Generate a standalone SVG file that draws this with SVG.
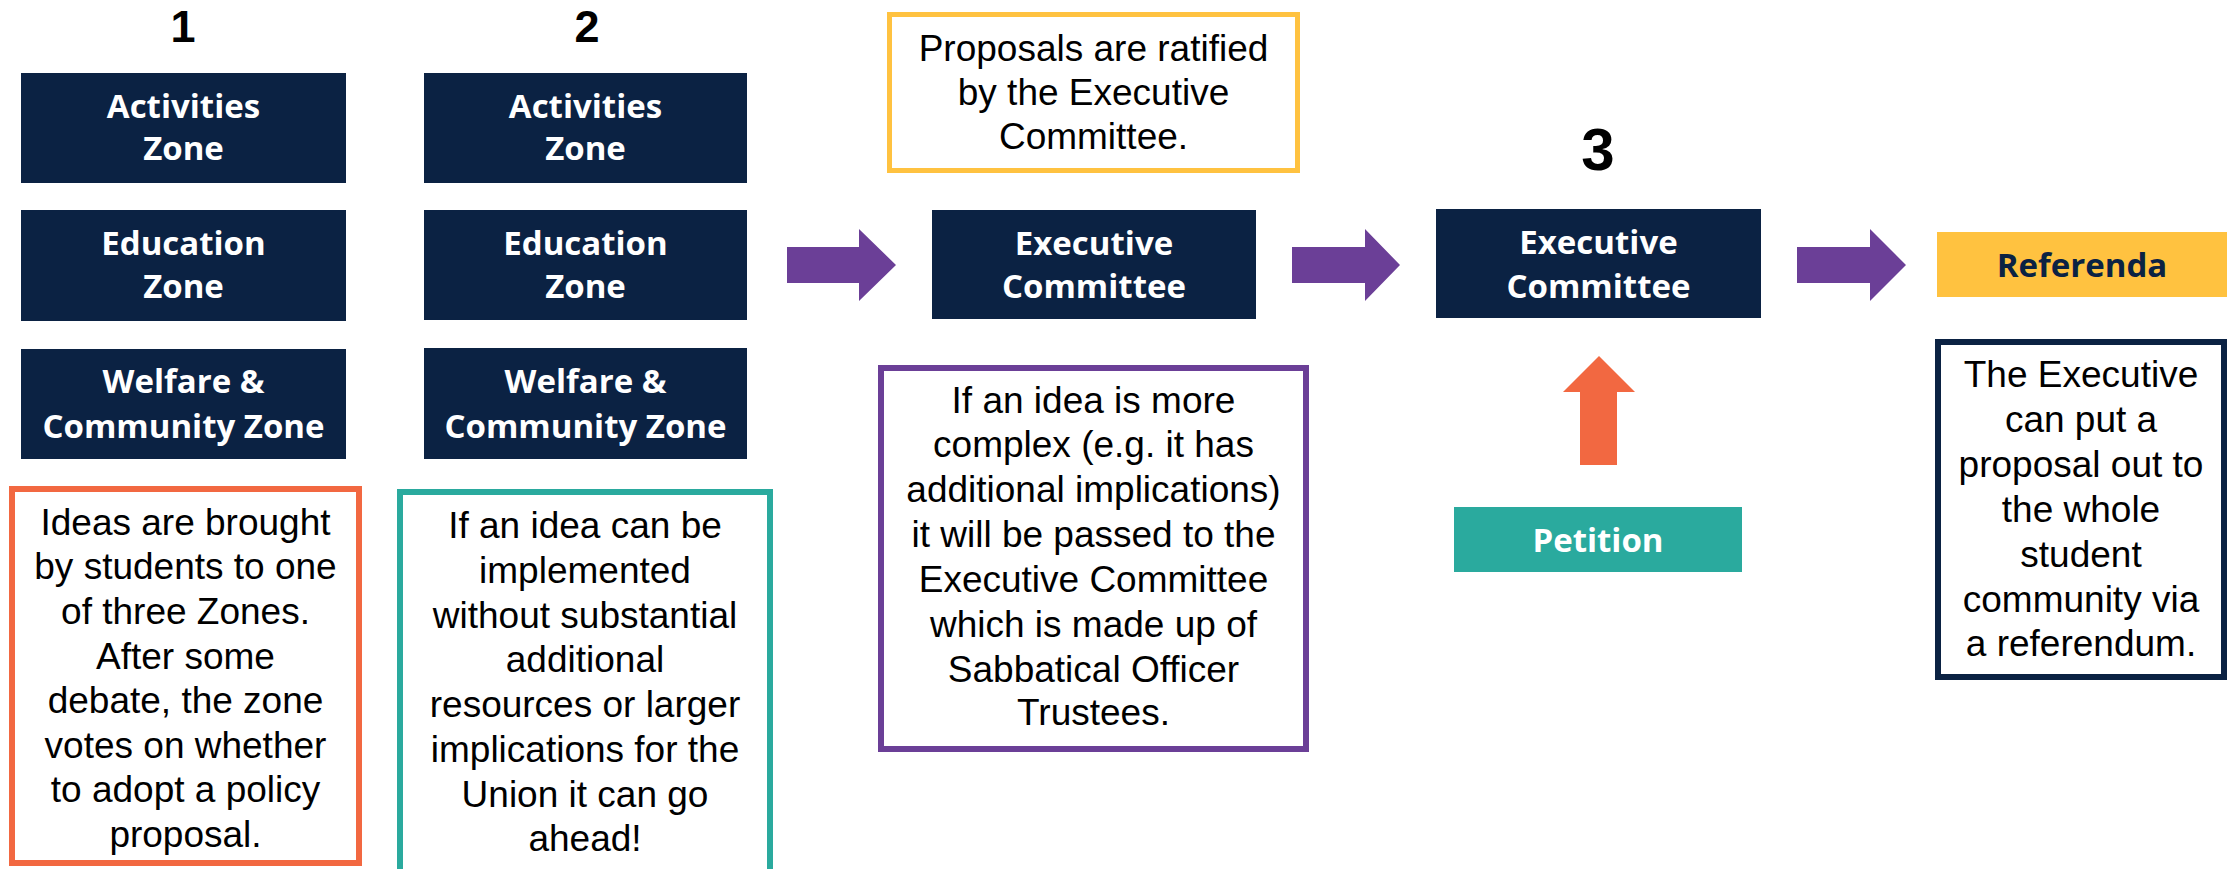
<svg xmlns="http://www.w3.org/2000/svg" width="2239" height="869" viewBox="0 0 2239 869">
<style>
.node{fill:#0B2243}
.nt{font-family:"Open Sans","Noto Sans","Liberation Sans",sans-serif;font-weight:700;font-size:33px;fill:#ffffff;text-anchor:middle}
.num{font-family:"Liberation Sans",Arial,sans-serif;font-weight:700;fill:#000000;text-anchor:middle}
.bt{font-family:"Liberation Sans",Arial,sans-serif;font-size:37px;fill:#000000;text-anchor:middle}
.ob{fill:#ffffff}
.arrow{fill:#6B3F97}
</style>
<rect width="2239" height="869" fill="#ffffff"/>

<g id="step1"><text class="num" x="183" y="42" font-size="45">1</text></g>
<g id="step2"><text class="num" x="587" y="42" font-size="45">2</text></g>
<g id="step3"><text class="num" x="1598" y="170" font-size="60">3</text></g>

<g id="activities1"><rect class="node" x="21" y="73" width="325" height="110"/><text class="nt" x="183.5" y="118">Activities</text><text class="nt" x="183.5" y="160">Zone</text></g>
<g id="education1"><rect class="node" x="21" y="210" width="325" height="111"/><text class="nt" x="183.5" y="255">Education</text><text class="nt" x="183.5" y="298">Zone</text></g>
<g id="welfare1"><rect class="node" x="21" y="349" width="325" height="110"/><text class="nt" x="183.5" y="393">Welfare &amp;</text><text class="nt" x="183.5" y="438">Community Zone</text></g>

<g id="activities2"><rect class="node" x="424" y="73" width="323" height="110"/><text class="nt" x="585.5" y="118">Activities</text><text class="nt" x="585.5" y="160">Zone</text></g>
<g id="education2"><rect class="node" x="424" y="210" width="323" height="110"/><text class="nt" x="585.5" y="255">Education</text><text class="nt" x="585.5" y="298">Zone</text></g>
<g id="welfare2"><rect class="node" x="424" y="348" width="323" height="111"/><text class="nt" x="585.5" y="393">Welfare &amp;</text><text class="nt" x="585.5" y="438">Community Zone</text></g>

<g id="note1"><rect class="ob" x="12" y="489" width="347" height="374" stroke="#F26841" stroke-width="6"/>
<text class="bt" x="185.5" y="535">Ideas are brought</text>
<text class="bt" x="185.5" y="579">by students to one</text>
<text class="bt" x="185.5" y="624">of three Zones.</text>
<text class="bt" x="185.5" y="669">After some</text>
<text class="bt" x="185.5" y="713">debate, the zone</text>
<text class="bt" x="185.5" y="758">votes on whether</text>
<text class="bt" x="185.5" y="802">to adopt a policy</text>
<text class="bt" x="185.5" y="847">proposal.</text></g>

<g id="note2"><rect class="ob" x="400" y="492" width="370" height="400" stroke="#2AAA9E" stroke-width="6"/>
<text class="bt" x="585" y="538">If an idea can be</text>
<text class="bt" x="585" y="583">implemented</text>
<text class="bt" x="585" y="628">without substantial</text>
<text class="bt" x="585" y="672">additional</text>
<text class="bt" x="585" y="717">resources or larger</text>
<text class="bt" x="585" y="762">implications for the</text>
<text class="bt" x="585" y="807">Union it can go</text>
<text class="bt" x="585" y="851">ahead!</text></g>

<g id="ratified"><rect class="ob" x="889.5" y="14.5" width="408" height="156" stroke="#FFC240" stroke-width="5"/>
<text class="bt" x="1093.5" y="61">Proposals are ratified</text>
<text class="bt" x="1093.5" y="105">by the Executive</text>
<text class="bt" x="1093.5" y="149">Committee.</text></g>

<g id="exec2"><rect class="node" x="932" y="210" width="324" height="109"/><text class="nt" x="1094" y="255">Executive</text><text class="nt" x="1094" y="298">Committee</text></g>

<g id="note3"><rect class="ob" x="881" y="368" width="425" height="381" stroke="#6B3F97" stroke-width="6"/>
<text class="bt" x="1093.5" y="413">If an idea is more</text>
<text class="bt" x="1093.5" y="457">complex (e.g. it has</text>
<text class="bt" x="1093.5" y="502">additional implications)</text>
<text class="bt" x="1093.5" y="547">it will be passed to the</text>
<text class="bt" x="1093.5" y="592">Executive Committee</text>
<text class="bt" x="1093.5" y="637">which is made up of</text>
<text class="bt" x="1093.5" y="682">Sabbatical Officer</text>
<text class="bt" x="1093.5" y="725">Trustees.</text></g>

<g id="exec3"><rect class="node" x="1436" y="209" width="325" height="109"/><text class="nt" x="1598.5" y="254">Executive</text><text class="nt" x="1598.5" y="298">Committee</text></g>

<g id="petition"><rect x="1454" y="507" width="288" height="65" fill="#2AAA9E"/><text class="nt" x="1598" y="552">Petition</text></g>

<g id="referenda"><rect x="1937" y="232" width="290" height="65" fill="#FFC240"/><text class="nt" x="2082" y="277" style="fill:#0B2243">Referenda</text></g>

<g id="note4"><rect class="ob" x="1938" y="342" width="286" height="335" stroke="#0B2243" stroke-width="6"/>
<text class="bt" x="2081" y="387">The Executive</text>
<text class="bt" x="2081" y="432">can put a</text>
<text class="bt" x="2081" y="477">proposal out to</text>
<text class="bt" x="2081" y="522">the whole</text>
<text class="bt" x="2081" y="567">student</text>
<text class="bt" x="2081" y="612">community via</text>
<text class="bt" x="2081" y="656">a referendum.</text></g>

<g id="connectors">
<polygon class="arrow" points="787,247 859,247 859,229 896,265 859,301 859,283 787,283"/>
<polygon class="arrow" points="1292,247 1365,247 1365,229 1400,265 1365,301 1365,283 1292,283"/>
<polygon class="arrow" points="1797,247 1870,247 1870,229 1906,265 1870,301 1870,283 1797,283"/>
<polygon fill="#F26841" points="1580,465 1580,392 1563,392 1599,356 1635,392 1617,392 1617,465"/>
</g>
</svg>
